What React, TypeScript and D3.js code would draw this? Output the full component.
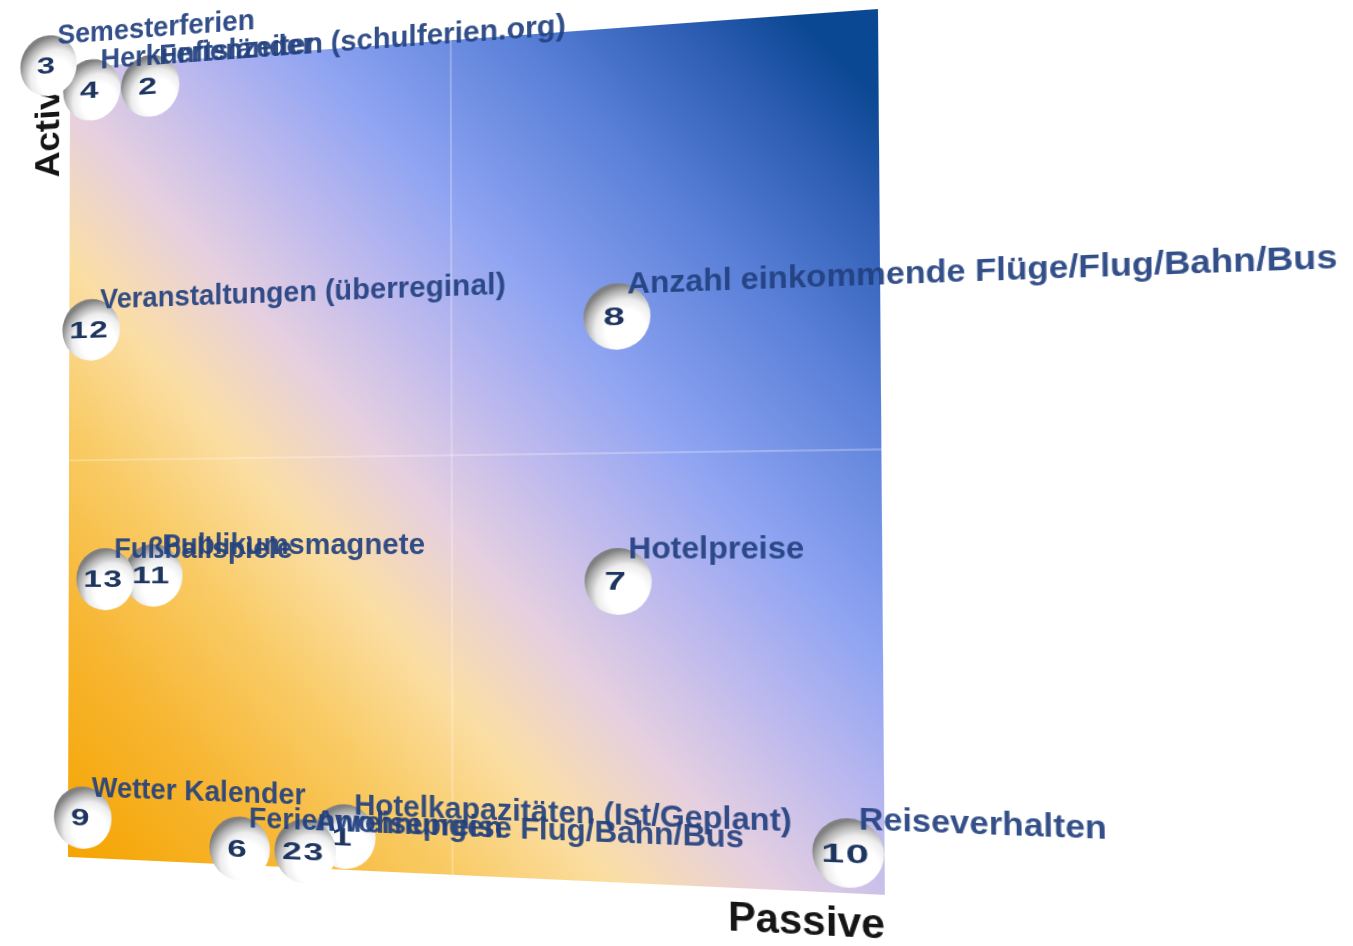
import React from "react";
import * as d3 from "d3";

// ---- data ----
const bubbleIds = ["4", "2", "3", "12", "8", "11", "13", "7", "9", "6", "1", "23", "10"];
const bubbleNames = [
  "Herkunftsländer",
  "Ferienzeiten (schulferien.org)",
  "Semesterferien",
  "Veranstaltungen (überreginal)",
  "Anzahl einkommende Flüge/Flug/Bahn/Bus",
  "Publikumsmagnete",
  "Fußballspiele",
  "Hotelpreise",
  "Wetter Kalender",
  "Ferienwohnungen",
  "Hotelkapazitäten (Ist/Geplant)",
  "Anreisepreise Flug/Bahn/Bus",
  "Reiseverhalten",
];
const passiveValues = [3, 11, -3, 3, 70, 11.5, 5, 70, 2, 23, 36.5, 31.5, 96];
const activeValues = [97, 97, 100.5, 66.5, 66, 35.5, 35, 35, 5, 2, 4, 2, 4.5];
const axisDomain = [0, 100];
const axisTitles = ["Active", "Passive"];
const dividerValue = 50;

// ---- layout ----
const VW = 1353;
const VH = 946;
const X0 = 70;
const Y0 = 40;
const PW = 810;
const PH = 820;
// screen corners of the tilted plane: TL, TR, BR, BL
const corners: [number, number][] = [
  [70, 68],
  [878, 9],
  [885, 895],
  [68, 857],
];

function planeTransform(P: [number, number][], x0: number, y0: number, w: number, h: number) {
  const [[xa, ya], [xb, yb], [xc, yc], [xd, yd]] = P;
  const dx1 = xb - xc, dx2 = xd - xc, dx3 = xa - xb + xc - xd;
  const dy1 = yb - yc, dy2 = yd - yc, dy3 = ya - yb + yc - yd;
  const den = dx1 * dy2 - dx2 * dy1;
  const g = (dx3 * dy2 - dx2 * dy3) / den;
  const hh = (dx1 * dy3 - dx3 * dy1) / den;
  const a = xb - xa + g * xb, b = xd - xa + hh * xd, c = xa;
  const d = yb - ya + g * yb, e = yd - ya + hh * yd, f = ya;
  const A = a / w, B = b / h, C = c - (a * x0) / w - (b * y0) / h;
  const D = d / w, E = e / h, F = f - (d * x0) / w - (e * y0) / h;
  const G = g / w, H = hh / h, I = 1 - (g * x0) / w - (hh * y0) / h;
  return `matrix3d(${A},${D},0,${G},${B},${E},0,${H},0,0,1,0,${C},${F},0,${I})`;
}

export default function App() {
  const x = d3.scaleLinear().domain(axisDomain).range([X0, X0 + PW]);
  const y = d3.scaleLinear().domain(axisDomain).range([Y0 + PH, Y0]);
  const r = 32;
  const font = "'Liberation Sans', Arial, sans-serif";
  const points = bubbleIds.map((id, i) => ({
    id,
    name: bubbleNames[i],
    cx: x(passiveValues[i]),
    cy: y(activeValues[i]),
  }));

  return (
    <div style={{ position: "absolute", left: 0, top: 0, width: VW, height: VH, overflow: "hidden", background: "#fff" }}>
      <svg
        width={VW}
        height={VH}
        style={{
          position: "absolute",
          left: 0,
          top: 0,
          transformOrigin: "0 0",
          transform: planeTransform(corners, X0, Y0, PW, PH),
          overflow: "visible",
        }}
      >
        <defs>
          <linearGradient id="plane" gradientUnits="userSpaceOnUse" x1={x(0)} y1={y(0)} x2={x(100)} y2={y(90)}>
            <stop offset="0" stopColor="#F5A400" />
            <stop offset="0.15" stopColor="#F7B530" />
            <stop offset="0.28" stopColor="#F9CC68" />
            <stop offset="0.38" stopColor="#FBDEA4" />
            <stop offset="0.48" stopColor="#E6D0E0" />
            <stop offset="0.58" stopColor="#BDB9EE" />
            <stop offset="0.68" stopColor="#8FA4F2" />
            <stop offset="0.82" stopColor="#5A80D8" />
            <stop offset="0.93" stopColor="#2D5DB3" />
            <stop offset="1" stopColor="#0B4893" />
          </linearGradient>
          <radialGradient id="ball" cx="0.62" cy="0.68" r="0.66" fx="0.64" fy="0.72">
            <stop offset="0" stopColor="#ffffff" />
            <stop offset="0.45" stopColor="#ffffff" />
            <stop offset="0.68" stopColor="#ececec" />
            <stop offset="0.86" stopColor="#b4b4b4" />
            <stop offset="1" stopColor="#808080" />
          </radialGradient>
        </defs>

        <rect x={x(0)} y={y(100)} width={x(100) - x(0)} height={y(0) - y(100)} fill="url(#plane)" />
        <line x1={x(dividerValue)} x2={x(dividerValue)} y1={y(100)} y2={y(0)} stroke="#ffffff" strokeOpacity={0.35} strokeWidth={1.5} />
        <line x1={x(0)} x2={x(100)} y1={y(dividerValue)} y2={y(dividerValue)} stroke="#ffffff" strokeOpacity={0.35} strokeWidth={1.5} />

        <text
          transform={`translate(${x(0) - 12},${y(100)}) rotate(-90)`}
          textAnchor="end"
          fontFamily={font}
          fontWeight="bold"
          fontSize={38}
          fill="#151515"
        >
          {axisTitles[0]}
        </text>
        <text x={x(100)} y={y(0) + 40} textAnchor="end" fontFamily={font} fontWeight="bold" fontSize={38} fill="#151515">
          {axisTitles[1]}
        </text>

        {points.map((p) => (
          <g key={"b" + p.id}>
            <circle cx={p.cx} cy={p.cy} r={r} fill="url(#ball)" />
            <text
              transform={`translate(${p.cx - 2},${p.cy}) scale(1.55,1)`}
              textAnchor="middle"
              dominantBaseline="central"
              fontFamily={font}
              fontWeight="bold"
              fontSize={24}
              letterSpacing={1}
              fill="#1E3560"
            >
              {p.id}
            </text>
          </g>
        ))}

        {points.map((p) => (
          <text
            key={"l" + p.id}
            x={p.cx + 10}
            y={p.cy - 22}
            fontFamily={font}
            fontWeight="bold"
            fontSize={30}
            fill="#22407F"
            fillOpacity={0.92}
          >
            {p.name}
          </text>
        ))}
      </svg>
    </div>
  );
}
